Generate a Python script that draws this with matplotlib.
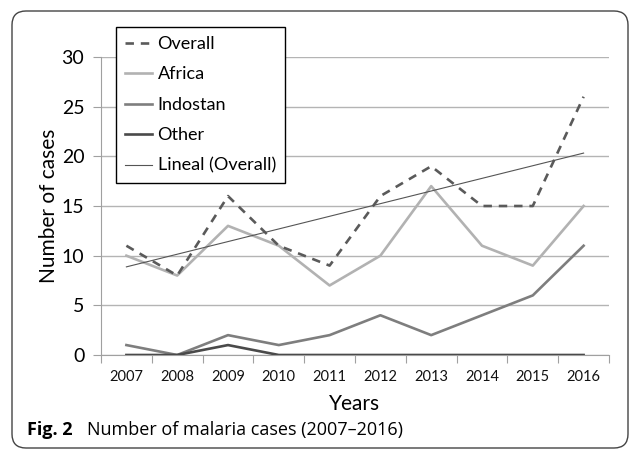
import numpy as np
import matplotlib
matplotlib.use('Agg')
import matplotlib.pyplot as plt
from matplotlib.patches import FancyBboxPatch
from matplotlib.transforms import IdentityTransform

years = ['2007', '2008', '2009', '2010', '2011', '2012', '2013', '2014', '2015', '2016']
overall = [11, 8, 16, 11, 9, 16, 19, 15, 15, 26]
africa = [10, 8, 13, 11, 7, 10, 17, 11, 9, 15]
indostan = [1, 0, 2, 1, 2, 4, 2, 4, 6, 11]
other = [0, 0, 1, 0, 0, 0, 0, 0, 0, 0]

plt.rcParams['font.family'] = ['Lato', 'DejaVu Sans']

fig = plt.figure(figsize=(6.29, 4.49), dpi=100)
ax = fig.add_axes([101 / 629, 1 - 355 / 449, 508 / 629, 298 / 449])

x = np.arange(len(years))
# linear trend of the overall series
coef = np.polyfit(x, overall, 1)
trend = np.polyval(coef, x)

ax.plot(x, overall, color='#5a5a5a', lw=1.9, ls=(0, (3.2, 2.6)), label='Overall', zorder=5)
ax.plot(x, africa, color='#b2b2b2', lw=1.9, label='Africa', zorder=3)
ax.plot(x, indostan, color='#7e7e7e', lw=1.9, label='Indostan', zorder=4)
ax.plot(x, other, color='#4a4a4a', lw=1.9, label='Other', zorder=4)
ax.plot(x, trend, color='#555555', lw=0.8, label='Lineal (Overall)', zorder=6)

ax.set_xlim(-0.5, len(years) - 0.5)
ax.set_ylim(0, 30)
ax.set_yticks(range(0, 31, 5))
ax.set_xticks(x)
ax.set_xticklabels(years, fontsize=10.5, color='#111111')
ax.set_xticks(np.arange(-0.5, len(years)), minor=True)
ax.tick_params(axis='x', which='major', length=0, pad=11)
ax.tick_params(axis='x', which='minor', length=6, color='#a0a0a0', width=0.8)
ax.tick_params(axis='y', length=6, color='#a0a0a0', width=0.8, labelsize=14, pad=6)

for s in ['top', 'right']:
    ax.spines[s].set_visible(False)
for s in ['left', 'bottom']:
    ax.spines[s].set_color('#a0a0a0')
    ax.spines[s].set_linewidth(0.8)
ax.yaxis.grid(True, color='#b4b4b4', lw=1.0)
ax.set_axisbelow(True)

ax.set_xlabel('Years', fontsize=15, labelpad=7)
ax.set_ylabel('Number of cases', fontsize=15, labelpad=2)

leg = ax.legend(loc='upper left', bbox_to_anchor=(116 / 629, 1 - 27 / 449),
                bbox_transform=fig.transFigure, borderaxespad=0, fontsize=13,
                frameon=True, fancybox=False, handlelength=1.5, handletextpad=0.3,
                labelspacing=0.8, borderpad=0.5)
leg.get_frame().set_edgecolor('black')
leg.get_frame().set_linewidth(1.0)
leg.get_frame().set_alpha(1)

fig.text(27 / 629, 1 - 430 / 449, 'Fig. 2', fontsize=13, fontweight='bold',
         family='Open Sans', va='center', ha='left')
fig.text(87 / 629, 1 - 430 / 449, 'Number of malaria cases (2007\u20132016)', fontsize=13,
         family='Open Sans', va='center', ha='left')

border = FancyBboxPatch((12, 1), 616, 449 - 11 - 1,
                        boxstyle='round,pad=0,rounding_size=14',
                        transform=IdentityTransform(), fill=False,
                        edgecolor='#444444', lw=1.0)
fig.add_artist(border)

fig.savefig('out.png', dpi=100)
